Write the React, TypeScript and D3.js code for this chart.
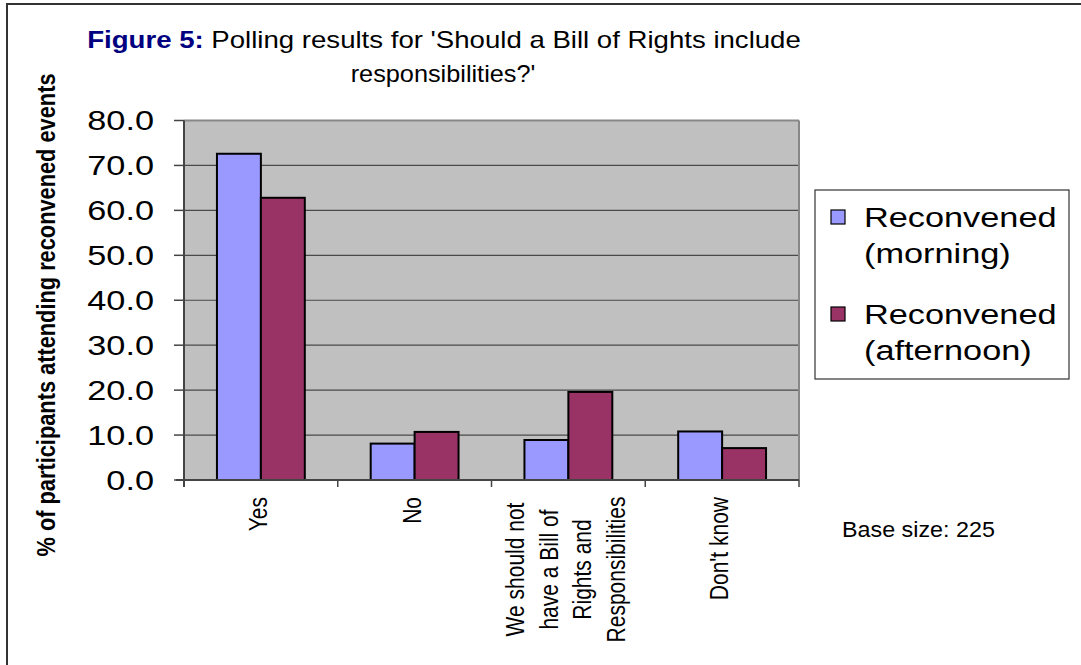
import React from "react";
import * as d3 from "d3";

// Poll answers (x categories) and the line breaks used for the rotated labels
const categories = ["Yes", "No", "We should not have a Bill of Rights and Responsibilities", "Don't know"];
const categoryLines = [["Yes"], ["No"], ["We should not", "have a Bill of", "Rights and", "Responsibilities"], ["Don't know"]];

// Percentage of participants per answer
const seriesNames = ["Reconvened (morning)", "Reconvened (afternoon)"];
const seriesLegendLines = [["Reconvened", "(morning)"], ["Reconvened", "(afternoon)"]];
const morning = [72.6, 8.1, 8.9, 10.8];
const afternoon = [62.8, 10.7, 19.6, 7.1];
const seriesColors = ["#9999FF", "#993366"];

const yTicks = [0, 10, 20, 30, 40, 50, 60, 70, 80];

const W = 1081;
const H = 665;
const FONT = "'Liberation Sans', Arial, Helvetica, sans-serif";

const plot = { left: 184, right: 799, top: 120.5, bottom: 480 };

export default function App() {
  const x0 = d3.scaleBand<string>().domain(categories).range([plot.left, plot.right]).padding(0);
  const bw = x0.bandwidth();
  // Excel-style gap width of 150%: two bars take 2/3.5 of the category
  const groupW = (bw * 2) / 3.5;
  const x1 = d3
    .scaleBand<string>()
    .domain(seriesNames)
    .range([(bw - groupW) / 2, (bw + groupW) / 2])
    .padding(0);
  const y = d3.scaleLinear().domain([0, 80]).range([plot.bottom, plot.top]);
  const series = [morning, afternoon];
  const fmt = d3.format(".1f");

  const sx = 1.27; // horizontal widening of the chart lettering
  const lineGap = 33.7;

  return (
    <svg
      width={W}
      height={H}
      style={{ position: "absolute", left: 0, top: 0, background: "#fff" }}
      fontFamily={FONT}
    >
      {/* outer frame (top and left edges) */}
      <line x1={6} x2={W} y1={4} y2={4} stroke="#333" strokeWidth={2} />
      <line x1={7} x2={7} y1={3} y2={H} stroke="#333" strokeWidth={2} />

      {/* title */}
      <text transform={`translate(444,48) scale(1.2,1)`} textAnchor="middle" fontSize={23}>
        <tspan fontWeight="bold" fill="#000080">Figure 5:</tspan>
        <tspan fill="#000"> Polling results for 'Should a Bill of Rights include</tspan>
      </text>
      <text transform={`translate(443,82) scale(1.1,1)`} textAnchor="middle" fontSize={23}>
        responsibilities?'
      </text>

      {/* plot area */}
      <rect
        x={plot.left}
        y={plot.top}
        width={plot.right - plot.left}
        height={plot.bottom - plot.top}
        fill="#C0C0C0"
      />
      {yTicks.filter((t) => t > 0 && t < 80).map((t) => (
        <line key={t} x1={plot.left} x2={plot.right} y1={y(t)} y2={y(t)} stroke="#4a4a4a" strokeWidth={1.2} />
      ))}
      <line x1={plot.left} x2={plot.right} y1={plot.top} y2={plot.top} stroke="#888" strokeWidth={2} />
      <line x1={plot.right} x2={plot.right} y1={plot.top} y2={plot.bottom} stroke="#888" strokeWidth={2} />

      {/* bars */}
      {categories.map((c, i) => (
        <g key={c} transform={`translate(${x0(c)},0)`}>
          {series.map((vals, s) => (
            <rect
              key={s}
              x={x1(seriesNames[s])}
              y={y(vals[i])}
              width={x1.bandwidth()}
              height={y(0) - y(vals[i])}
              fill={seriesColors[s]}
              stroke="#000"
              strokeWidth={2}
            />
          ))}
        </g>
      ))}

      {/* y axis */}
      <line x1={plot.left} x2={plot.left} y1={plot.top} y2={plot.bottom + 7} stroke="#444" strokeWidth={2} />
      {yTicks.map((t) => (
        <g key={t}>
          <line x1={plot.left - 10} x2={plot.left} y1={y(t)} y2={y(t)} stroke="#444" strokeWidth={1.5} />
          <text
            transform={`translate(154,${y(t) + 9.5}) scale(${sx},1)`}
            textAnchor="end"
            fontSize={27}
            fill="#000"
          >
            {fmt(t)}
          </text>
        </g>
      ))}

      {/* x axis */}
      <line x1={plot.left - 8} x2={plot.right} y1={plot.bottom} y2={plot.bottom} stroke="#444" strokeWidth={2} />
      {d3.range(categories.length + 1).map((k) => {
        const xx = plot.left + k * bw;
        return <line key={k} x1={xx} x2={xx} y1={plot.bottom} y2={plot.bottom + 7} stroke="#444" strokeWidth={1.5} />;
      })}
      {categories.map((c, i) => {
        const lines = categoryLines[i];
        const cx = (x0(c) as number) + bw / 2 - 3;
        const multi = lines.length > 1;
        const top = 497;
        const blockCenter = top + 72.5;
        return lines.map((ln, j) => {
          const lx = cx + (j - (lines.length - 1) / 2) * lineGap + 9;
          return (
            <text
              key={c + j}
              transform={`translate(${lx},${multi ? blockCenter : top}) scale(1.25,1) rotate(-90)`}
              textAnchor={multi ? "middle" : "end"}
              fontSize={21}
              fill="#000"
            >
              {ln}
            </text>
          );
        });
      })}

      {/* y axis title */}
      <text
        transform={`translate(55,315) scale(1.2,1) rotate(-90)`}
        textAnchor="middle"
        fontSize={21.8}
        fontWeight="bold"
        fill="#000"
      >
        % of participants attending reconvened events
      </text>

      {/* legend */}
      <rect x={815} y={190} width={254} height={189} fill="#fff" stroke="#333" strokeWidth={1.2} />
      {seriesNames.map((s, k) => {
        const base = 227 + k * 97;
        return (
          <g key={s}>
            <rect x={831} y={base - 17} width={14} height={14} fill={seriesColors[k]} stroke="#000" strokeWidth={1.2} />
            {seriesLegendLines[k].map((ln, j) => (
              <text
                key={j}
                transform={`translate(864,${base + j * 36}) scale(${sx},1)`}
                fontSize={27}
                fill="#000"
              >
                {ln}
              </text>
            ))}
          </g>
        );
      })}

      {/* sample size note */}
      <text transform={`translate(842,537) scale(1.06,1)`} fontSize={22} fill="#000">
        Base size: 225
      </text>
    </svg>
  );
}
